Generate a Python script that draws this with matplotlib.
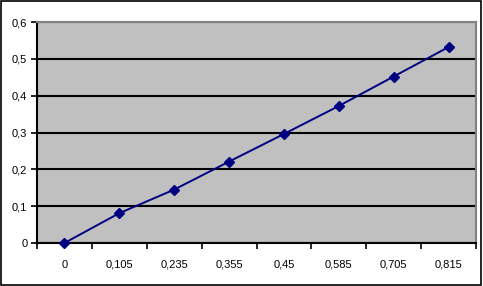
import numpy as np
import matplotlib.pyplot as plt
from matplotlib.patches import Rectangle

categories = ['0', '0,105', '0,235', '0,355', '0,45', '0,585', '0,705', '0,815']
values = [0.0, 0.081, 0.145, 0.221, 0.296, 0.372, 0.452, 0.532]
yticks = [0, 0.1, 0.2, 0.3, 0.4, 0.5, 0.6]
ylabels = ['0', '0,1', '0,2', '0,3', '0,4', '0,5', '0,6']

plt.rcParams['font.family'] = ['Liberation Sans', 'DejaVu Sans']

fig = plt.figure(figsize=(4.83, 2.86), dpi=100)
fig.patches.append(Rectangle((0.002, 0.003), 0.994, 0.992, transform=fig.transFigure,
                             fill=False, edgecolor='black', linewidth=1.2))
ax = fig.add_axes([37/483, 43/286, 439/483, 221/286])
ax.set_facecolor('#c0c0c0')

x = np.arange(len(categories))
ax.plot(x, values, color='#000080', marker='D', markersize=5, linewidth=1.4,
        zorder=3, clip_on=False)

ax.set_xlim(-0.5, len(categories) - 0.5)
ax.set_ylim(0, 0.6)
ax.set_yticks(yticks, ylabels)
ax.set_xticks(x, categories)
ax.set_xticks(np.arange(-0.5, len(categories)), minor=True)
ax.tick_params(axis='x', which='major', length=0, pad=12, labelsize=8)
ax.tick_params(axis='x', which='minor', length=4, width=1.2, direction='out')
ax.tick_params(axis='y', length=4, width=1.2, direction='out', labelsize=8, pad=3)

ax.grid(True, axis='y', color='black', linewidth=1.5)
ax.set_axisbelow(True)
for s in ['left', 'bottom']:
    ax.spines[s].set_color('black')
    ax.spines[s].set_linewidth(1.5)
for s in ['top', 'right']:
    ax.spines[s].set_color('#808080')
    ax.spines[s].set_linewidth(1.5)

plt.savefig('out.png', dpi=100)
